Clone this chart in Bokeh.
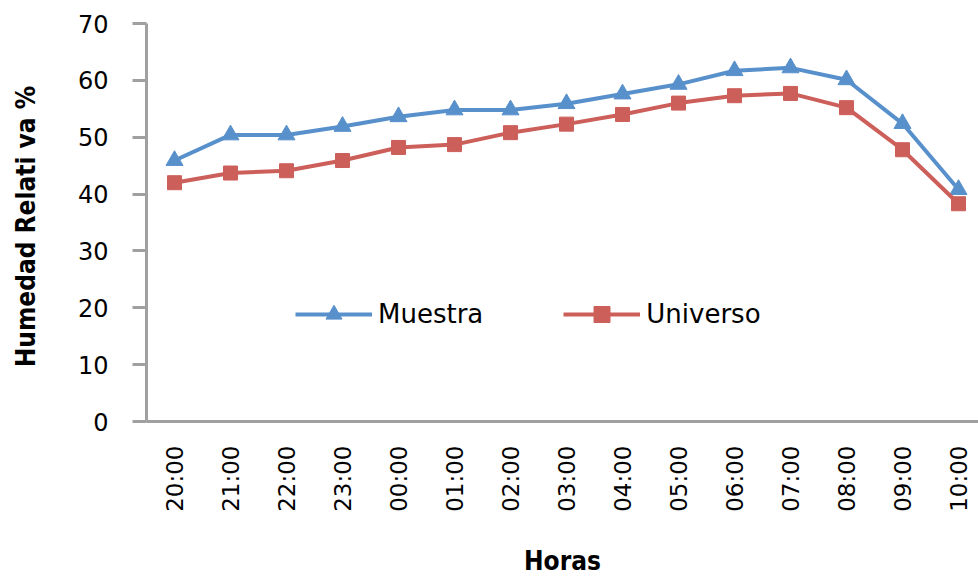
import math
from bokeh.plotting import figure
from bokeh.models import Range1d, Legend, LegendItem, FixedTicker
from bokeh.embed import file_html
from bokeh.resources import INLINE

horas = ["20:00", "21:00", "22:00", "23:00", "00:00", "01:00", "02:00", "03:00",
         "04:00", "05:00", "06:00", "07:00", "08:00", "09:00", "10:00"]
muestra = [45.9, 50.4, 50.4, 51.9, 53.6, 54.8, 54.8, 55.9, 57.6, 59.3, 61.7, 62.2, 60.1, 52.4, 40.8]
universo = [42.0, 43.7, 44.1, 45.9, 48.2, 48.7, 50.8, 52.3, 54.0, 56.0, 57.3, 57.7, 55.2, 47.8, 38.3]
y_ticks = [0, 10, 20, 30, 40, 50, 60, 70]

xs = list(range(len(horas)))

p = figure(width=978, height=578, output_backend="svg", toolbar_location=None,
           x_range=Range1d(-0.5, -0.5 + 832 / 56), y_range=Range1d(0, 70),
           min_border_left=146, min_border_right=0, min_border_top=23, min_border_bottom=157)
p.outline_line_color = None
p.xgrid.grid_line_color = None
p.ygrid.grid_line_color = None
p.background_fill_color = "white"

blue = "#5890CB"
red = "#CD5F5A"

l1 = p.line(xs, muestra, line_color=blue, line_width=4)
s1 = p.scatter(xs, muestra, marker="triangle", size=17, fill_color=blue, line_color=blue)
l2 = p.line(xs, universo, line_color=red, line_width=4)
s2 = p.scatter(xs, universo, marker="square", size=14, fill_color=red, line_color=red)

legend = Legend(items=[LegendItem(label="Muestra", renderers=[l1, s1]),
                       LegendItem(label="Universo", renderers=[l2, s2])],
                location=(149, 87), orientation="horizontal",
                glyph_width=77, glyph_height=40, label_standoff=6, spacing=80,
                padding=0, margin=0, border_line_color=None, background_fill_alpha=0,
                label_text_font="DejaVu Sans", label_text_font_size="26px",
                label_text_color="black", label_height=40)
p.add_layout(legend, "center")

gray = "#A0A0A0"
title_font = "DejaVu Sans Condensed"
# y axis
ya = p.yaxis[0]
ya.ticker = FixedTicker(ticks=y_ticks)
ya.axis_line_color = gray
ya.axis_line_width = 3
ya.major_tick_line_color = gray
ya.major_tick_line_width = 3
ya.major_tick_out = 14
ya.major_tick_in = 0
ya.minor_tick_line_color = None
ya.major_label_standoff = 24
ya.major_label_text_font = "DejaVu Sans"
ya.major_label_text_font_size = "24px"
ya.major_label_text_color = "black"
ya.axis_label = "Humedad Relati  va %"
ya.axis_label_text_font = title_font
ya.axis_label_text_font_style = "bold"
ya.axis_label_text_font_size = "26px"
ya.axis_label_text_color = "black"
ya.axis_label_standoff = 34

# x axis
xa = p.xaxis[0]
xa.ticker = FixedTicker(ticks=xs)
xa.major_label_overrides = {i: h for i, h in enumerate(horas)}
xa.axis_line_color = gray
xa.axis_line_width = 3
xa.major_tick_line_color = None
xa.major_tick_out = 0
xa.major_tick_in = 0
xa.minor_tick_line_color = None
xa.major_label_orientation = math.pi / 2
xa.major_label_standoff = 24
xa.major_label_text_font = "DejaVu Sans"
xa.major_label_text_font_size = "23px"
xa.major_label_text_color = "black"
xa.axis_label = "Horas"
xa.axis_label_text_font = title_font
xa.axis_label_text_font_style = "bold"
xa.axis_label_text_font_size = "26px"
xa.axis_label_text_color = "black"
xa.axis_label_standoff = 31

open("out.html", "w").write(file_html(p, INLINE))
